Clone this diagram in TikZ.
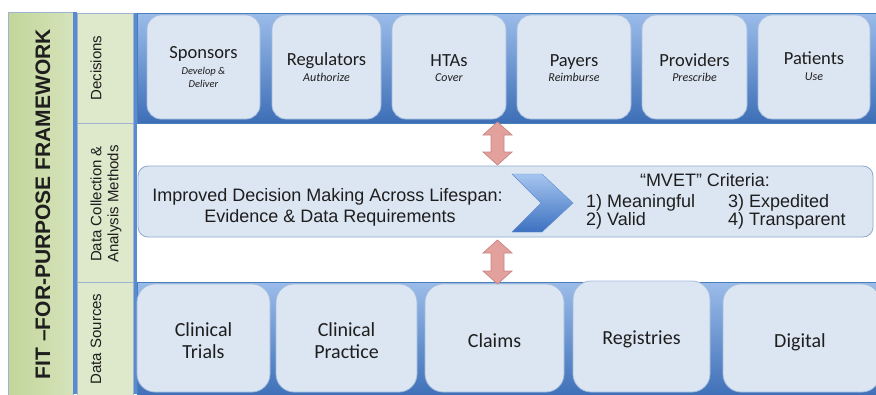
\documentclass[tikz,border=0pt]{standalone}
\usepackage{fontspec}
\setmainfont{Liberation Sans}
\newfontfamily\calib{Carlito}
\definecolor{bandtop}{HTML}{9BBCEA}
\definecolor{bandbot}{HTML}{3D6EB6}
\definecolor{bandedge}{HTML}{4A7EBB}
\definecolor{boxfill}{HTML}{DCE6F2}
\definecolor{boxedge}{HTML}{A3BCDD}
\definecolor{midedge}{HTML}{8EA9CF}
\definecolor{arfill}{HTML}{E3A19E}
\definecolor{aredge}{HTML}{C98683}
\definecolor{gL}{HTML}{C2D69A}
\definecolor{gR}{HTML}{D5E3BA}
\definecolor{gcell}{HTML}{DEE8CB}
\definecolor{celledge}{HTML}{9DB3CF}
\definecolor{strip}{HTML}{5A8AD0}
\definecolor{chevL}{HTML}{A6C5F0}
\definecolor{chevD}{HTML}{3C71C0}
\definecolor{txt}{HTML}{1E1E1E}
\tikzset{
  band/.style={draw=bandedge, line width=0.8pt, top color=bandtop, bottom color=bandbot, inner sep=0},
  tbox/.style={draw=boxedge, fill=boxfill, rounded corners=14pt, line width=0.8pt, inner sep=0, minimum height=104},
  bbox/.style={draw=boxedge, fill=boxfill, rounded corners=18pt, line width=0.8pt, inner sep=0, minimum height=108},
  ttl/.style={font=\calib\fontsize{18.5}{20}\selectfont, text=txt, anchor=base, inner sep=0},
  sub/.style={font=\calib\itshape\fontsize{12}{13}\selectfont, text=txt, anchor=base, inner sep=0},
  src/.style={font=\calib\fontsize{20}{22}\selectfont, text=txt, anchor=base, inner sep=0},
  ar/.style={font=\fontsize{18}{20}\selectfont, text=txt, anchor=base, inner sep=0},
  side/.style={font=\fontsize{15}{17}\selectfont, text=txt, rotate=90, align=center, inner sep=0},
  cell/.style={draw=celledge, fill=gcell, line width=0.7pt, inner sep=0, minimum width=56},
  updown/.style={draw=aredge, fill=arfill, line width=0.7pt},
}
\begin{document}
\begin{tikzpicture}[x=1pt,y=-1pt]
\useasboundingbox[fill=white] (0,0) rectangle (876,394);
% left column
\node[draw=celledge, line width=0.7pt, left color=gL, right color=gR, inner sep=0,
      minimum width=65, minimum height=390] (fitcol) at (40.5,207) {};
\node[font=\bfseries\fontsize{21}{24}\selectfont, text=txt, rotate=90, inner sep=0] (fit) at (43,204) {FIT –FOR-PURPOSE FRAMEWORK};
% strips
\fill[strip] (73,12) rectangle (77,394);
\fill[strip] (133,13) rectangle (137,394);
% second column
\node[cell, minimum height=110] (cdec) at (105,68) {};
\node[cell, minimum height=159] (cdata) at (105,202.5) {};
\node[cell, minimum height=116] (csrc) at (105,340) {};
\node[side] (ldec) at (96,68) {Decisions};
\node[side, font=\fontsize{15}{17}\selectfont] (ldata) at (106,204) {Data Collection \&\\Analysis Methods};
\node[side] (lsrc) at (96,339) {Data Sources};
% top band
\node[band, minimum width=739, minimum height=110] (topband) at (506.5,68) {};
\node[tbox, minimum width=113] (sponsors) at (203.5,67) {};
\node[tbox, minimum width=109] (regulators) at (326.5,67) {};
\node[tbox, minimum width=114] (htas) at (449,67) {};
\node[tbox, minimum width=114] (payers) at (574,67) {};
\node[tbox, minimum width=105] (providers) at (694.5,67) {};
\node[tbox, minimum width=112] (patients) at (814,67) {};
\node[ttl] (t1) at (203.5,58) {Sponsors};
\node[sub, font=\calib\itshape\fontsize{10.5}{12}\selectfont] (s1a) at (203.5,74) {Develop \&};
\node[sub, font=\calib\itshape\fontsize{10.5}{12}\selectfont] (s1b) at (203.5,87) {Deliver};
\node[ttl] (t2) at (326.5,65) {Regulators};
\node[sub] (s2) at (326.5,81) {Authorize};
\node[ttl] (t3) at (449,66) {HTAs};
\node[sub] (s3) at (449,81) {Cover};
\node[ttl] (t4) at (574,66) {Payers};
\node[sub] (s4) at (574,81) {Reimburse};
\node[ttl] (t5) at (694.5,66) {Providers};
\node[sub] (s5) at (694.5,81) {Prescribe};
\node[ttl] (t6) at (814,64) {Patients};
\node[sub] (s6) at (814,80) {Use};
% middle
\node[draw=midedge, fill=boxfill, rounded corners=10pt, line width=0.8pt, inner sep=0,
      minimum width=735, minimum height=71] (mid) at (505.5,201.5) {};
\node[ar] (m1) at (327.5,201) {Improved Decision Making Across Lifespan:};
\node[ar] (m2) at (330,222) {Evidence \& Data Requirements};
\path[top color=chevL, bottom color=chevD, draw=chevD!80, line width=0.4pt]
  (512,174) -- (542,174) -- (573,203) -- (542,232) -- (512,232) -- (541,203) -- cycle;
\node[ar] (c0) at (705,186) {“MVET” Criteria:};
\node[ar, anchor=base west] (c1) at (586,207) {1) Meaningful};
\node[ar, anchor=base west] (c3) at (728,207) {3) Expedited};
\node[ar, anchor=base west] (c2) at (586,225) {2) Valid};
\node[ar, anchor=base west] (c4) at (728,225) {4) Transparent};
% bottom band
\node[band, minimum width=739, minimum height=116] (botband) at (506.5,340) {};
\node[bbox, minimum width=133] (trials) at (203.5,338) {};
\node[bbox, minimum width=141] (practice) at (346.5,338) {};
\node[bbox, minimum width=139] (claims) at (494.5,338) {};
\node[bbox, minimum width=137, minimum height=111] (registries) at (641.5,336.5) {};
\node[bbox, minimum width=157] (digital) at (801.5,338) {};
\node[src] (b1a) at (203.5,336) {Clinical};
\node[src] (b1b) at (203.5,358) {Trials};
\node[src] (b2a) at (346.5,336) {Clinical};
\node[src] (b2b) at (346.5,358) {Practice};
\node[src] (b3) at (494.5,347) {Claims};
\node[src] (b4) at (641.5,344) {Registries};
\node[src] (b5) at (800,347) {Digital};
% double arrows
\coordinate (a1) at (497.5,122);
\draw[updown] (a1) -- ++(14.5,13) -- ++(-8,0) -- ++(0,17) -- ++(8,0) -- ++(-14.5,13)
  -- ++(-14.5,-13) -- ++(8,0) -- ++(0,-17) -- ++(-8,0) -- cycle;
\coordinate (a2) at (497.5,240);
\draw[updown] (a2) -- ++(14.5,13) -- ++(-8,0) -- ++(0,18) -- ++(8,0) -- ++(-14.5,13)
  -- ++(-14.5,-13) -- ++(8,0) -- ++(0,-18) -- ++(-8,0) -- cycle;
\end{tikzpicture}
\end{document}
